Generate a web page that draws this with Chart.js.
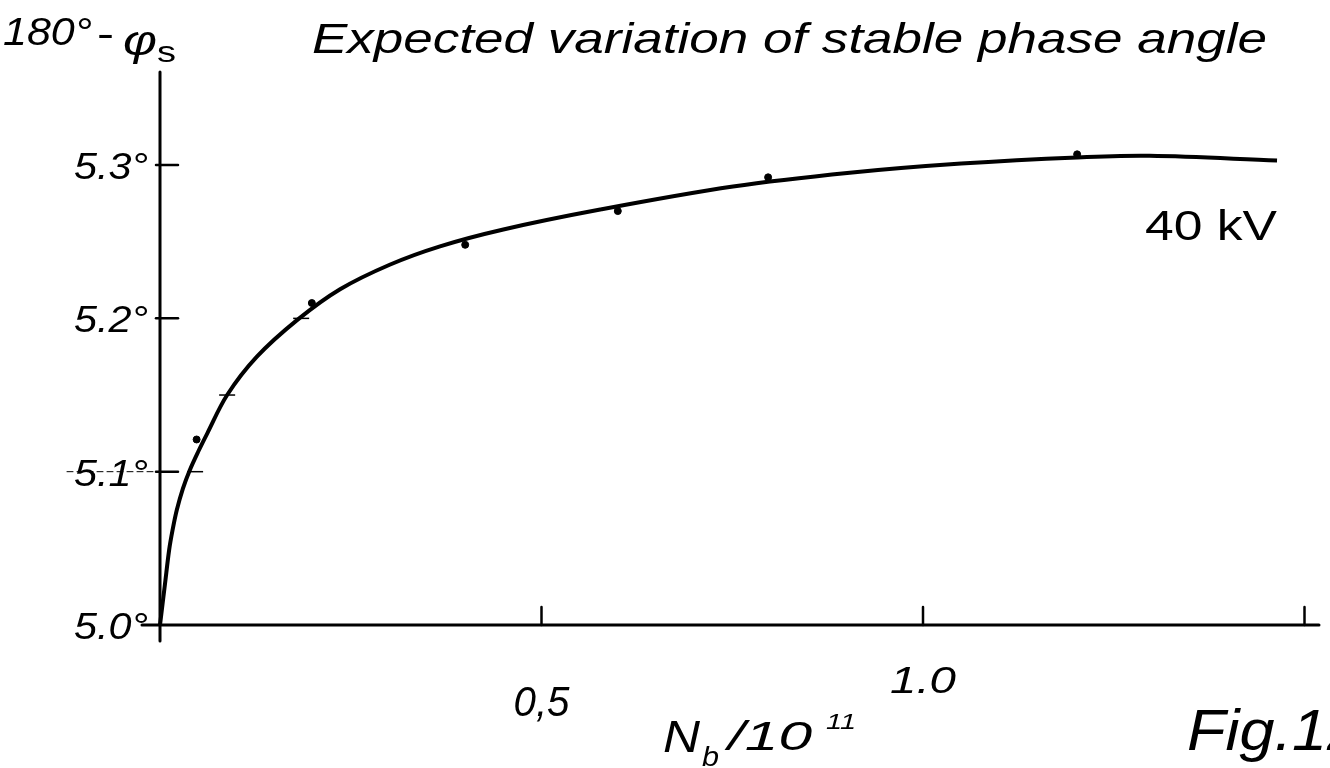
<!DOCTYPE html>
<html>
<head>
<meta charset="utf-8">
<script src="https://cdn.jsdelivr.net/npm/chart.js@4"></script>
<style>
  html, body { margin: 0; padding: 0; background: #fff; }
  #wrap { width: 1330px; height: 768px; position: relative; }
</style>
</head>
<body>
<div id="wrap"><canvas id="phaseChart"></canvas></div>
<script>
// smooth curve: 180° - phi_s against N_b / 10^11 (40 kV)
const curveX = [0, 0.0066, 0.012, 0.0165, 0.022, 0.03, 0.039, 0.05, 0.062, 0.088, 0.127, 0.18, 0.236, 0.301, 0.367, 0.45, 0.577, 0.751, 0.904, 1.05, 1.202, 1.297, 1.464];
const curveY = [5.0, 5.027, 5.049, 5.062, 5.075, 5.089, 5.101, 5.113, 5.125, 5.15, 5.175, 5.199, 5.219, 5.235, 5.247, 5.258, 5.271, 5.286, 5.295, 5.301, 5.305, 5.306, 5.303];

// computed points marked with dots
const dotX = [0.048, 0.199, 0.4, 0.6, 0.797, 1.202];
const dotY = [5.121, 5.21, 5.248, 5.27, 5.292, 5.307];

// short pencil dashes on the curve
const dashX = [0.046, 0.088, 0.185];
const dashY = [5.1, 5.15, 5.2];

const xTicks = [0.5, 1.0, 1.5];
const xTickLabels = ['0,5', '1.0', ''];
const yTicks = [5.0, 5.1, 5.2, 5.3];
const yTickLabels = ['5.0°', '5.1°', '5.2°', '5.3°'];

const FONT = '"Liberation Sans", "DejaVu Sans", sans-serif';

function toPoints(xs, ys) {
  return xs.map((x, i) => ({ x: x, y: ys[i] }));
}

// draw text stretched to fill [x0, x1]
function fitText(ctx, text, x0, x1, baseline, size, italic) {
  ctx.save();
  ctx.font = (italic ? 'italic ' : '') + size + 'px ' + FONT;
  ctx.textAlign = 'left';
  ctx.textBaseline = 'alphabetic';
  const w = ctx.measureText(text).width;
  ctx.translate(x0, baseline);
  ctx.scale((x1 - x0) / w, 1);
  ctx.fillStyle = '#000';
  ctx.fillText(text, 0, 0);
  ctx.restore();
}

const handAxes = {
  id: 'handAxes',
  beforeDatasetsDraw(chart) {
    const ctx = chart.ctx;
    const xs = chart.scales.x, ys = chart.scales.y;
    const x0 = xs.getPixelForValue(0);
    const y0 = ys.getPixelForValue(5.0);
    ctx.save();
    ctx.strokeStyle = '#000';
    ctx.lineCap = 'round';

    // axis lines
    ctx.lineWidth = 3;
    ctx.beginPath();
    ctx.moveTo(x0, chart.chartArea.top);
    ctx.lineTo(x0, y0 + 16);
    ctx.moveTo(x0 - 18, y0);
    ctx.lineTo(chart.chartArea.right, y0);
    ctx.stroke();

    // y ticks pointing inwards
    ctx.lineWidth = 2.5;
    yTicks.forEach(v => {
      if (v === 5.0) return;
      const py = ys.getPixelForValue(v);
      ctx.beginPath();
      ctx.moveTo(x0 - 4, py);
      ctx.lineTo(x0 + 18, py);
      ctx.stroke();
    });
    // faint guide through the 5.1 label
    ctx.lineWidth = 1;
    ctx.setLineDash([6, 4]);
    ctx.beginPath();
    ctx.moveTo(67, ys.getPixelForValue(5.1));
    ctx.lineTo(x0, ys.getPixelForValue(5.1));
    ctx.stroke();
    ctx.setLineDash([]);

    // x ticks pointing upwards
    ctx.lineWidth = 2.5;
    xTicks.forEach(v => {
      const px = xs.getPixelForValue(v);
      ctx.beginPath();
      ctx.moveTo(px, y0);
      ctx.lineTo(px, y0 - 18);
      ctx.stroke();
    });
    ctx.restore();

    // tick labels
    yTicks.forEach((v, i) => {
      const py = ys.getPixelForValue(v);
      fitText(ctx, yTickLabels[i], 74, 148, py + 14, 37, true);
    });
    const xLabelBase = [716, 693, 693];
    const xLabelSize = [42, 36, 36];
    xTicks.forEach((v, i) => {
      if (!xTickLabels[i]) return;
      const px = xs.getPixelForValue(v);
      const half = i === 0 ? 28 : 33;
      fitText(ctx, xTickLabels[i], px - half, px + half, xLabelBase[i], xLabelSize[i], true);
    });

    // axis titles and annotations
    fitText(ctx, '180°', 3, 92, 45, 39, true);
    fitText(ctx, '-', 97, 114, 47, 38, false);
    fitText(ctx, 'φ', 123, 157, 55, 42, true);
    fitText(ctx, 's', 157, 176, 62, 30, false);

    fitText(ctx, 'Expected variation of stable phase angle', 312, 1267, 53, 42, true);
    fitText(ctx, '40 kV', 1145, 1277, 240, 42, false);

    fitText(ctx, 'N', 663, 700, 752, 45, true);
    fitText(ctx, 'b', 702, 719, 766, 28, true);
    fitText(ctx, '/10', 728, 812, 750, 41, true);
    fitText(ctx, '11', 826, 856, 729, 22, true);

    fitText(ctx, 'Fig.12', 1187, 1362, 750, 58, true);
  }
};

new Chart(document.getElementById('phaseChart'), {
  type: 'scatter',
  data: {
    datasets: [
      {
        type: 'line',
        data: toPoints(curveX, curveY),
        borderColor: '#000',
        borderWidth: 4,
        pointRadius: 0,
        tension: 0.35,
        clip: false,
        order: 2
      },
      {
        data: toPoints(dotX, dotY),
        backgroundColor: '#000',
        borderColor: '#000',
        pointRadius: 3.5,
        clip: false,
        order: 1
      },
      {
        data: toPoints(dashX, dashY),
        pointStyle: 'line',
        borderColor: '#000',
        borderWidth: 1.5,
        pointRadius: 8,
        clip: false,
        order: 1
      }
    ]
  },
  options: {
    responsive: true,
    maintainAspectRatio: false,
    animation: false,
    events: [],
    layout: { padding: { left: 160, right: 11, top: 72, bottom: 143 } },
    scales: {
      x: { type: 'linear', min: 0, max: 1.519, display: false },
      y: { type: 'linear', min: 5.0, max: 5.3607, display: false }
    },
    plugins: {
      legend: { display: false },
      tooltip: { enabled: false }
    }
  },
  plugins: [handAxes]
});
</script>
</body>
</html>
